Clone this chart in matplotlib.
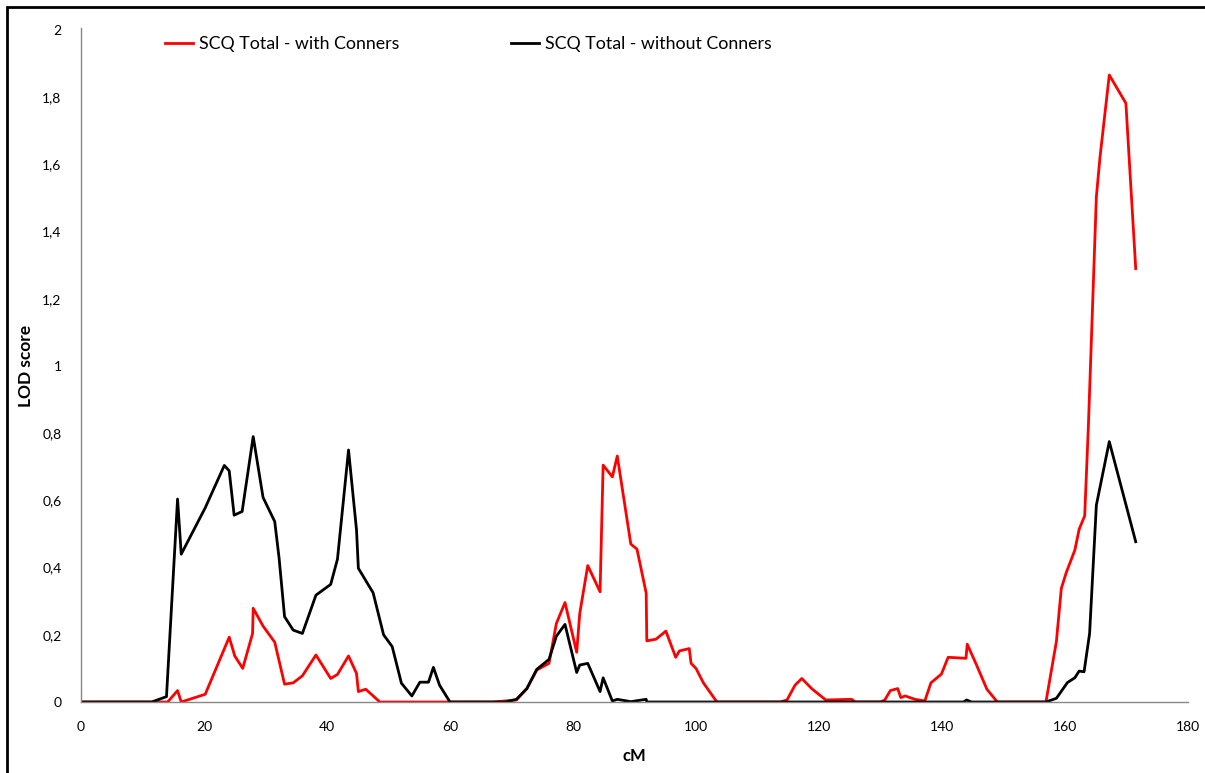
import matplotlib
matplotlib.use('Agg')
import matplotlib.pyplot as plt
from matplotlib.patches import Rectangle
from matplotlib.ticker import FuncFormatter

plt.rcParams['font.family'] = ['Lato', 'DejaVu Sans']

# SCQ Total - with Conners
cm_with = [0, 14.1, 15.7, 16.3, 20.2, 24.1, 25.0, 26.3, 27.9, 28.0, 29.6, 31.5,
           33.1, 34.5, 36.0, 38.2, 40.6, 41.7, 43.5, 44.8, 45.1, 46.3, 48.6,
           67.0, 70.8, 72.5, 74.1, 76.1, 77.3, 78.7, 80.6, 81.1, 82.4, 84.4,
           84.9, 86.4, 87.2, 89.4, 90.4, 91.9, 92.0, 93.5, 95.1, 96.7, 97.3,
           98.9, 99.2, 100.0, 101.2, 103.4, 113.7, 114.8, 116.1, 117.2, 118.8,
           121.1, 125.3, 125.9, 130.0, 130.7, 131.6, 132.8, 133.3, 134.0,
           135.6, 137.2, 138.2, 139.9, 141.0, 143.9, 144.1, 145.5, 147.3,
           149.0, 156.9, 158.6, 159.4, 160.2, 161.6, 162.3, 163.2, 163.8,
           165.1, 165.7, 167.2, 169.9, 171.5]
lod_with = [0, 0, 0.034, 0, 0.023, 0.193, 0.137, 0.1, 0.204, 0.279, 0.226, 0.178,
            0.053, 0.057, 0.078, 0.14, 0.07, 0.082, 0.137, 0.085, 0.031, 0.038, 0,
            0, 0.006, 0.04, 0.095, 0.115, 0.234, 0.296, 0.148, 0.264, 0.406, 0.328,
            0.705, 0.67, 0.732, 0.47, 0.455, 0.324, 0.182, 0.187, 0.211, 0.133, 0.152,
            0.159, 0.115, 0.1, 0.057, 0, 0, 0.006, 0.05, 0.07, 0.04,
            0.006, 0.008, 0, 0, 0.006, 0.034, 0.04, 0.013, 0.018,
            0.008, 0.003, 0.057, 0.083, 0.133, 0.13, 0.172, 0.115, 0.038,
            0, 0, 0.18, 0.338, 0.385, 0.452, 0.514, 0.554, 0.82,
            1.504, 1.623, 1.866, 1.782, 1.29]

# SCQ Total - without Conners
cm_without = [0, 11.5, 13.9, 15.7, 16.3, 20.2, 23.3, 24.1, 24.9, 26.2, 28.0, 29.6,
              31.5, 32.2, 33.1, 34.5, 36.0, 38.2, 40.6, 41.7, 43.5, 44.8, 45.1,
              47.5, 49.2, 50.6, 52.1, 53.8, 55.1, 56.5, 57.3, 58.3, 60.0, 69.0,
              70.8, 72.5, 74.1, 76.1, 77.3, 78.7, 80.6, 81.1, 82.4, 84.4, 84.9,
              86.4, 87.2, 89.4, 91.9, 92.0, 143.5, 144.0, 144.8, 156.9, 158.6,
              160.4, 161.6, 162.3, 163.1, 164.0, 165.1, 167.2, 171.5]
lod_without = [0, 0, 0.016, 0.604, 0.44, 0.578, 0.704, 0.688, 0.556, 0.567, 0.79, 0.609,
               0.537, 0.43, 0.254, 0.214, 0.204, 0.318, 0.35, 0.425, 0.75, 0.512, 0.398,
               0.325, 0.2, 0.165, 0.056, 0.018, 0.059, 0.059, 0.103, 0.05, 0, 0,
               0.008, 0.04, 0.097, 0.127, 0.196, 0.231, 0.088, 0.11, 0.115, 0.031, 0.072,
               0.003, 0.008, 0.001, 0.008, 0, 0, 0.006, 0, 0, 0.011,
               0.058, 0.072, 0.092, 0.09, 0.204, 0.586, 0.775, 0.477]

series_names = ['SCQ Total - with Conners', 'SCQ Total - without Conners']

fig = plt.figure(figsize=(12.05, 7.73), dpi=100)
ax = fig.add_axes([81 / 1205, 1 - 702 / 773, 1107 / 1205, 672 / 773])

ax.plot(cm_with, lod_with, color='#ff0000', lw=2, label=series_names[0])
ax.plot(cm_without, lod_without, color='black', lw=2, label=series_names[1])

ax.set_xlim(0, 180)
ax.set_ylim(0, 2)
ax.set_xticks(range(0, 181, 20))
ax.set_yticks([i / 5 for i in range(11)])
ax.yaxis.set_major_formatter(FuncFormatter(lambda v, p: f'{v:g}'.replace('.', ',')))
ax.tick_params(length=0, labelsize=10, pad=14)
for s in ['top', 'right']:
    ax.spines[s].set_visible(False)
for s in ['left', 'bottom']:
    ax.spines[s].set_color('#888888')
    ax.spines[s].set_linewidth(1)
ax.spines['left'].set_bounds(0, 2.005)

ax.set_xlabel('cM', fontsize=12, fontweight='bold')
ax.set_ylabel('LOD score', fontsize=12.5, fontweight='bold')
ax.xaxis.set_label_coords(0.5, -46 / 672)
ax.yaxis.set_label_coords(-47 / 1107, 0.5)

ax.legend(loc='center left', bbox_to_anchor=(77 / 1107, 1 - 14 / 672),
          ncol=2, frameon=False, fontsize=12.8, handlelength=1.55,
          handletextpad=0.35, columnspacing=6.3, borderaxespad=0)

# black frame around the chart (cut off at right and bottom)
fig.patches.append(Rectangle((7 / 1205, -0.05), 1.1, 1 - 7 / 773 + 0.05,
                             transform=fig.transFigure, fill=False,
                             edgecolor='black', lw=2))

fig.savefig('out.png', dpi=100)
